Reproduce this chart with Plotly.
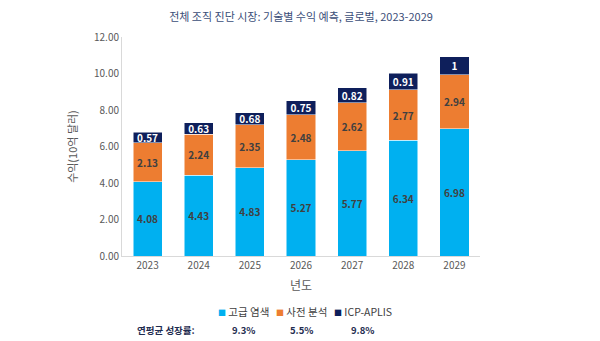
import plotly.graph_objects as go

years = ["2023", "2024", "2025", "2026", "2027", "2028", "2029"]
advanced_staining = [4.08, 4.43, 4.83, 5.27, 5.77, 6.34, 6.98]
pre_analysis = [2.13, 2.24, 2.35, 2.48, 2.62, 2.77, 2.94]
icp_aplis = [0.57, 0.63, 0.68, 0.75, 0.82, 0.91, 1.0]
series_names = ["고급 염색", "사전 분석", "ICP-APLIS"]
cagr_label = "연평균 성장률:"
cagr_values = ["9.3%", "5.5%", "9.8%"]
y_ticks = [0, 2, 4, 6, 8, 10, 12]

FONT = "Noto Sans CJK KR"
colors = ["#00B0F0", "#ED7D31", "#0E1F5B"]
text_colors = ["#404040", "#404040", "#FFFFFF"]

fig = go.Figure()
for name, vals, c, tc in zip(series_names, [advanced_staining, pre_analysis, icp_aplis], colors, text_colors):
    fig.add_trace(go.Bar(
        x=years, y=vals, name=name,
        marker=dict(color=c, line=dict(color="#FFFFFF", width=0.5)),
        text=[f"{v:g}" for v in vals],
        textposition="inside", insidetextanchor="middle", textangle=0,
        textfont=dict(family=FONT, size=10, color=tc, weight="bold"),
        width=0.57,
        showlegend=False,
    ))

fig.update_layout(
    barmode="stack",
    width=600, height=341,
    margin=dict(l=122, r=120, t=37, b=85),
    paper_bgcolor="white", plot_bgcolor="white",
    font=dict(family=FONT, color="#595959"),
    uniformtext=dict(minsize=10, mode="show"),
    title=dict(text="전체 조직 진단 시장: 기술별 수익 예측, 글로벌, 2023-2029",
               x=0.5, xref="paper", xanchor="center", y=0.95, yanchor="middle",
               font=dict(family=FONT, size=11, color="#3B4E78")),
    xaxis=dict(
        showgrid=False, showline=True, linecolor="#D9D9D9", ticks="",
        tickfont=dict(family=FONT, size=10, color="#595959"),
        title=dict(text="년도", font=dict(family=FONT, size=12, color="#595959"), standoff=10),
    ),
    yaxis=dict(
        range=[0, 12], tickvals=y_ticks, ticktext=[f"{t:.2f}" for t in y_ticks],
        showgrid=False, showline=True, linecolor="#D9D9D9", ticks="",
        tickfont=dict(family=FONT, size=10, color="#595959"),
        title=dict(text="수익(10억 달러)", font=dict(family=FONT, size=11, color="#595959"), standoff=14),
        zeroline=False,
    ),
    showlegend=False,
)

def px_x(p):
    return (p - 122) / 358

def px_y(p):
    return (256 - p) / 219

# manual legend
legend_x = [219, 277, 335]
for name, c, lx in zip(series_names, colors, legend_x):
    fig.add_annotation(
        text=f"<span style='color:{c};font-size:8px'>■</span> {name}",
        x=px_x(lx - 3), y=px_y(311), xref="paper", yref="paper",
        xanchor="left", yanchor="middle", showarrow=False,
        font=dict(family=FONT, size=10.5, color="#404040"))

fig.add_annotation(text=cagr_label, x=px_x(166), y=px_y(330), xref="paper", yref="paper",
                   xanchor="center", yanchor="middle", showarrow=False,
                   font=dict(family=FONT, size=9.5, color="#1F2D50", weight="bold"))
for xv, t in zip([243, 301, 362], cagr_values):
    fig.add_annotation(text=t, x=px_x(xv), y=px_y(330), xref="paper", yref="paper",
                       xanchor="center", yanchor="middle", showarrow=False,
                       font=dict(family=FONT, size=9.5, color="#1F2D50", weight="bold"))

fig.write_html("out.html")
